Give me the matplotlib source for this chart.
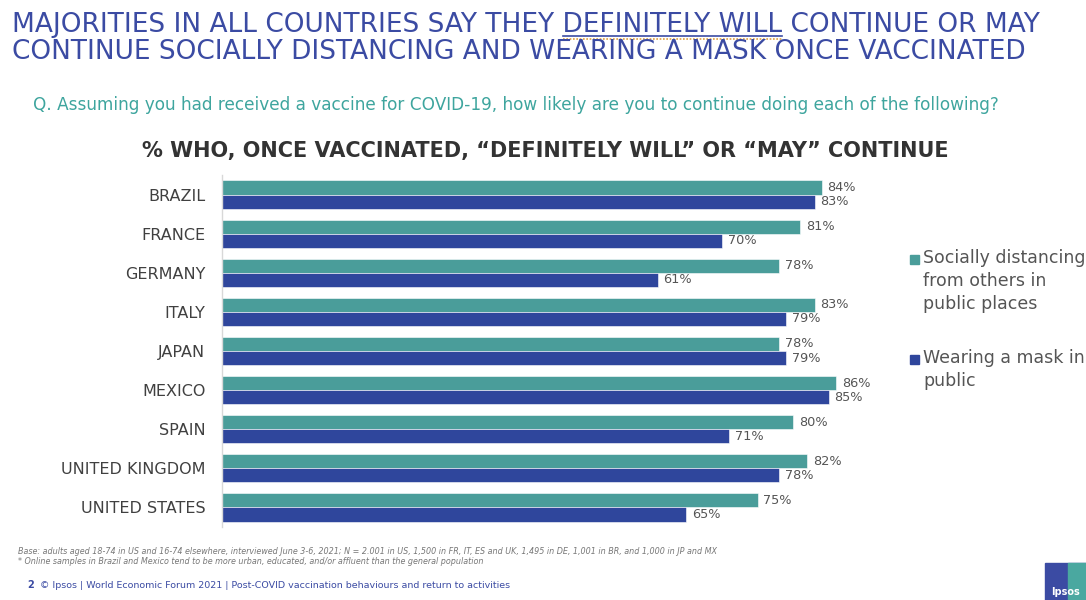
import matplotlib.pyplot as plt
from matplotlib.patches import Rectangle

countries = ["BRAZIL", "FRANCE", "GERMANY", "ITALY", "JAPAN", "MEXICO",
             "SPAIN", "UNITED KINGDOM", "UNITED STATES"]
distancing = [84, 81, 78, 83, 78, 86, 80, 82, 75]
mask = [83, 70, 61, 79, 79, 85, 71, 78, 65]
series_labels = ["Socially distancing\nfrom others in\npublic places",
                 "Wearing a mask in\npublic"]

TEAL = "#4a9d9a"
BLUE = "#2f469c"
TITLE_BLUE = "#3b4ba3"
SUB_TEAL = "#3ea59e"
GRAY = "#555555"
TITLE_FS = 19

W, H = 1086, 600
fig = plt.figure(figsize=(W / 100, H / 100), dpi=100)
fig.patch.set_facecolor("white")


def fx(px):
    return px / W


def fy(py):
    return 1 - py / H


# main axes: x 0..100 spans pixels 222..936, rows from y 175 to 527
ax = fig.add_axes([fx(222), fy(527), fx(936) - fx(222), fy(175) - fy(527)])
n = len(countries)
ys = list(range(n))
bh = 0.36
ax.barh([y - bh / 2 for y in ys], distancing, height=bh, color=TEAL,
        edgecolor="white", linewidth=0.4)
ax.barh([y + bh / 2 for y in ys], mask, height=bh, color=BLUE,
        edgecolor="white", linewidth=0.4)
for y, d, m in zip(ys, distancing, mask):
    ax.text(d + 0.8, y - bh / 2, f"{d}%", va="center", ha="left",
            fontsize=9.3, color=GRAY)
    ax.text(m + 0.8, y + bh / 2, f"{m}%", va="center", ha="left",
            fontsize=9.3, color=GRAY)
ax.set_xlim(0, 100)
ax.set_ylim(n - 0.5, -0.5)
ax.set_yticks(ys)
ax.set_yticklabels(countries, fontsize=11.5, color="#404040")
ax.tick_params(axis="y", length=0, pad=12)
ax.set_xticks([])
for s in ["top", "right", "bottom"]:
    ax.spines[s].set_visible(False)
ax.spines["left"].set_color("#d8d8d8")
ax.spines["left"].set_linewidth(1)
ax.patch.set_alpha(0)

# title
fig.text(fx(12), fy(25), "MAJORITIES IN ALL COUNTRIES SAY THEY DEFINITELY WILL CONTINUE OR MAY",
         fontsize=TITLE_FS, color=TITLE_BLUE, va="center", ha="left")
fig.text(fx(12), fy(52), "CONTINUE SOCIALLY DISTANCING AND WEARING A MASK ONCE VACCINATED",
         fontsize=TITLE_FS, color=TITLE_BLUE, va="center", ha="left")

# underline under "DEFINITELY WILL"
fig.canvas.draw()
r = fig.canvas.get_renderer()
pre = fig.text(0, 0, "MAJORITIES IN ALL COUNTRIES SAY THEY ", fontsize=TITLE_FS)
mid = fig.text(0, 0, "DEFINITELY WILL", fontsize=TITLE_FS)
w_pre = pre.get_window_extent(r).width
w_mid = mid.get_window_extent(r).width
pre.remove()
mid.remove()
x0 = 12 + w_pre
x1 = x0 + w_mid
fig.add_artist(plt.Line2D([fx(x0), fx(x1)], [fy(36), fy(36)], color=TITLE_BLUE, lw=1.2))
fig.add_artist(plt.Line2D([fx(x0), fx(x1)], [fy(38.5), fy(38.5)], color="#e0a040",
                          lw=1.2, linestyle=(0, (1, 1))))

fig.text(fx(33), fy(105),
         "Q. Assuming you had received a vaccine for COVID-19, how likely are you to continue doing each of the following?",
         fontsize=12.2, color=SUB_TEAL, va="center", ha="left")

fig.text(fx(545), fy(151),
         "% WHO, ONCE VACCINATED, \u201cDEFINITELY WILL\u201d OR \u201cMAY\u201d CONTINUE",
         fontsize=15, fontweight="bold", color="#333333", va="center", ha="center")

# legend
for (py, col, lab) in [(259, TEAL, series_labels[0]), (359, BLUE, series_labels[1])]:
    fig.add_artist(Rectangle((fx(910), fy(py + 5)), fx(9), 9 / H, color=col,
                             transform=fig.transFigure))
    fig.text(fx(923), fy(py - 10), lab, fontsize=12.5, color=GRAY,
             va="top", ha="left", linespacing=1.35)

# footer
fig.text(fx(18), fy(551),
         "Base: adults aged 18-74 in US and 16-74 elsewhere, interviewed June 3-6, 2021; N = 2.001 in US, 1,500 in FR, IT, ES and UK, 1,495 in DE, 1,001 in BR, and 1,000 in JP and MX",
         fontsize=5.8, style="italic", color="#777777", va="center", ha="left")
fig.text(fx(18), fy(562),
         "* Online samples in Brazil and Mexico tend to be more urban, educated, and/or affluent than the general population",
         fontsize=5.8, style="italic", color="#777777", va="center", ha="left")
fig.text(fx(27), fy(585), "2", fontsize=7, fontweight="bold", color=TITLE_BLUE,
         va="center", ha="left")
fig.text(fx(40), fy(585),
         "\u00a9 Ipsos | World Economic Forum 2021 | Post-COVID vaccination behaviours and return to activities",
         fontsize=6.8, color=TITLE_BLUE, va="center", ha="left")

# logo block
fig.add_artist(Rectangle((fx(1045), 0), fx(41), 37 / H, color="#3b4ba3",
                         transform=fig.transFigure))
fig.add_artist(Rectangle((fx(1068), 0), fx(18), 37 / H, color="#4aa8a0",
                         transform=fig.transFigure))
fig.text(fx(1066), fy(592), "Ipsos", fontsize=7, color="white", fontweight="bold",
         va="center", ha="center")

fig.savefig("out.png", dpi=100)
